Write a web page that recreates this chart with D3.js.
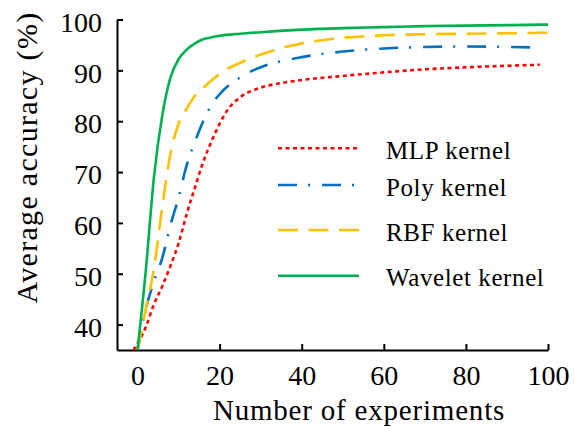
<!DOCTYPE html>
<html>
<head>
<meta charset="utf-8">
<script src="https://cdn.jsdelivr.net/npm/d3@7"></script>
<style>
  body { margin: 0; background: #fff; }
</style>
</head>
<body>
<div id="chart"></div>
<script>
// x values (number of experiments) and series (average accuracy, %)
const mlpX = [-1, 2, 4, 6, 8, 10, 12, 14, 16, 18, 20, 22, 25, 30, 35, 40, 50, 60, 70, 80, 90, 98];
const mlpY = [35, 39.5, 44, 47.5, 51.5, 56, 61.8, 67, 72, 76, 79.5, 82.3, 84.7, 86.6, 87.5, 88.1, 88.9, 89.6, 90.2, 90.6, 90.9, 91.1];

const polyX = [0, 2, 4, 6, 8, 10, 12, 14, 16, 18, 20, 25, 30, 35, 40, 50, 60, 70, 80, 90, 97];
const polyY = [35, 43, 48.5, 53, 59.5, 65, 71.4, 76, 80, 83.2, 85.3, 88.6, 90.6, 91.8, 92.6, 93.7, 94.3, 94.6, 94.7, 94.6, 94.5];

const rbfX = [0, 2, 4, 6, 8, 10, 12, 14, 16, 18, 20, 25, 30, 40, 50, 60, 70, 80, 90, 100];
const rbfY = [35, 43, 51, 63, 73.5, 79.5, 82.5, 85, 86.5, 88, 89.3, 91.5, 93.1, 95.3, 96.4, 96.9, 97.1, 97.2, 97.3, 97.4];

const waveX = [0, 2, 4, 6, 8, 10, 12, 14, 16, 18, 20, 25, 30, 40, 50, 60, 70, 80, 90, 100];
const waveY = [35, 50.5, 69, 81, 88.5, 92.2, 94.1, 95.3, 96.1, 96.5, 96.8, 97.2, 97.5, 98, 98.3, 98.5, 98.7, 98.8, 98.9, 99];

const seriesNames = ["MLP kernel", "Poly kernel", "RBF kernel", "Wavelet kernel"];
const xTicks = [0, 20, 40, 60, 80, 100];
const yTicks = [40, 50, 60, 70, 80, 90, 100];

const FONT = '"Liberation Serif"';
const width = 575, height = 427;
const svg = d3.select("#chart").append("svg").attr("width", width).attr("height", height);

const x = d3.scaleLinear().domain([-5, 100]).range([117, 548]);
const y = d3.scaleLinear().domain([35, 100]).range([350, 19.5]);

// axes: inward ticks, no outer ticks
const xAxis = d3.axisBottom(x).tickValues(xTicks).tickSizeInner(-6).tickSizeOuter(0).tickPadding(15);
const yAxis = d3.axisLeft(y).tickValues(yTicks).tickSizeInner(-6).tickSizeOuter(0).tickPadding(15);

const gx = svg.append("g").attr("transform", "translate(0,350)").call(xAxis);
const gy = svg.append("g").attr("transform", "translate(117,0)").call(yAxis);
[gx, gy].forEach((g) => {
  g.select(".domain").attr("stroke", "#000").attr("stroke-width", 2);
  g.selectAll(".tick line").attr("stroke", "#000").attr("stroke-width", 2);
  g.selectAll(".tick text")
    .style("font-family", FONT)
    .style("font-size", "28px")
    .attr("fill", "#000");
});
gy.selectAll(".tick text").attr("dy", "0.42em");

// axis titles
svg.append("text")
  .attr("x", 359).attr("y", 420)
  .attr("text-anchor", "middle")
  .style("font-family", FONT)
  .style("font-size", "29px")
  .attr("letter-spacing", 0.8)
  .text("Number of experiments");

svg.append("text")
  .attr("transform", "translate(37,157.5) rotate(-90)")
  .attr("text-anchor", "middle")
  .style("font-family", FONT)
  .style("font-size", "30px")
  .attr("letter-spacing", 1.3)
  .text("Average accuracy (%)");

// lines
const styles = [
  { color: "#ff0000", dash: "4,3.5" },
  { color: "#0070c0", dash: "19,11,2,12" },
  { color: "#ffc000", dash: "20,10.5" },
  { color: "#00b050", dash: null }
];
const allX = [mlpX, polyX, rbfX, waveX];
const allY = [mlpY, polyY, rbfY, waveY];

const line = d3.line()
  .x((d) => x(d[0]))
  .y((d) => y(d[1]))
  .curve(d3.curveMonotoneX);

const plot = svg.append("g");
seriesNames.forEach((name, i) => {
  const pts = allX[i].map((v, j) => [v, allY[i][j]]);
  plot.append("path")
    .datum(pts)
    .attr("fill", "none")
    .attr("stroke", styles[i].color)
    .attr("stroke-width", 2.6)
    .attr("stroke-dasharray", styles[i].dash)
    .attr("d", line);
});

// legend
const legendY = [148.3, 185, 230, 275.7];
const legend = svg.append("g");
seriesNames.forEach((name, i) => {
  legend.append("line")
    .attr("x1", 278).attr("x2", 359)
    .attr("y1", legendY[i]).attr("y2", legendY[i])
    .attr("stroke", styles[i].color)
    .attr("stroke-width", 2.6)
    .attr("stroke-dasharray", styles[i].dash);
  legend.append("text")
    .attr("x", 386).attr("y", legendY[i] + 10.5)
    .style("font-family", FONT)
    .style("font-size", "25px")
    .attr("letter-spacing", 0.6)
    .text(name);
});
</script>
</body>
</html>
